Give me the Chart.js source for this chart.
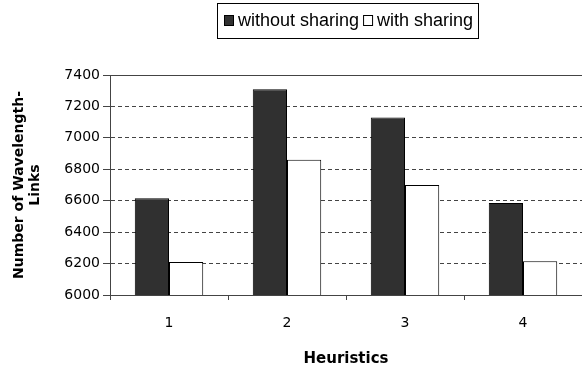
<!DOCTYPE html>
<html>
<head>
<meta charset="utf-8">
<script src="https://cdn.jsdelivr.net/npm/chart.js@4.4.1/dist/chart.umd.min.js"></script>
<style>
  html, body { margin: 0; padding: 0; background: #fff; }
  #chart { display: block; }
</style>
</head>
<body>
<canvas id="chart" width="582" height="366"></canvas>
<script>
// heuristics on the x axis, wavelength-link counts per heuristic
const heuristics = ["1", "2", "3", "4"];
const withoutSharing = [6615, 7310, 7130, 6585];
const withSharing = [6210, 6860, 6700, 6215];
const yMin = 6000;
const yMax = 7400;
const yStep = 200;

// ===== BOXED LEGEND =====
const boxedLegend = {
  id: "boxedLegend",
  afterDraw(chart) {
    const ctx = chart.ctx;
    const box = { left: 217.5, top: 3.5, right: 478.5, bottom: 38.5 };
    ctx.save();
    ctx.strokeStyle = "#000";
    ctx.lineWidth = 1;
    ctx.strokeRect(box.left, box.top, box.right - box.left, box.bottom - box.top);

    ctx.font = "18px 'Liberation Sans', Arial, sans-serif";
    ctx.textBaseline = "middle";
    const midY = 21;
    let x = 224;
    chart.data.datasets.forEach(ds => {
      ctx.fillStyle = ds.backgroundColor;
      ctx.fillRect(x + 0.5, midY - 5.5, 9, 10);
      ctx.strokeStyle = "#000";
      ctx.strokeRect(x + 0.5, midY - 5.5, 9, 10);
      ctx.fillStyle = "#000";
      ctx.fillText(ds.label, x + 14, midY);
      x += 14 + ctx.measureText(ds.label).width + 4;
    });
    ctx.restore();
  }
};

const ctx = document.getElementById("chart").getContext("2d");
new Chart(ctx, {
  type: "bar",
  data: {
    labels: heuristics,
    datasets: [
      {
        label: "without sharing",
        data: withoutSharing,
        backgroundColor: "#303030",
        borderColor: "#000",
        borderWidth: 1
      },
      {
        label: "with sharing",
        data: withSharing,
        backgroundColor: "#ffffff",
        borderColor: "#000",
        borderWidth: 1
      }
    ]
  },
  options: {
    responsive: false,
    animation: false,
    layout: { padding: { top: 75, right: 0, bottom: 0, left: 0 } },
    datasets: {
      bar: { categoryPercentage: 0.58, barPercentage: 1.0 }
    },
    plugins: {
      legend: { display: false },
      tooltip: { enabled: false }
    },
    scales: {
      x: {
        offset: true,
        afterFit: scale => { scale.height = 71; },
        grid: {
          offset: true,
          drawOnChartArea: false,
          drawTicks: true,
          tickLength: 5,
          color: "#444"
        },
        border: { display: true, color: "#444", width: 1 },
        ticks: {
          color: "#000",
          padding: 15,
          font: { family: "'DejaVu Sans', sans-serif", size: 14 }
        },
        title: {
          display: true,
          text: "Heuristics",
          color: "#000",
          padding: { top: 0, bottom: -2 },
          font: { family: "'DejaVu Sans', sans-serif", size: 15, weight: "bold" }
        }
      },
      y: {
        min: yMin,
        max: yMax,
        afterFit: scale => { scale.width = 110; },
        ticks: {
          stepSize: yStep,
          color: "#000",
          padding: 3,
          font: { family: "'DejaVu Sans', sans-serif", size: 14 },
          callback: v => String(v)
        },
        grid: {
          color: "#444",
          tickLength: 7
        },
        border: {
          display: true,
          color: "#444",
          width: 1,
          // top line of the plot is solid, the rest dashed
          dash: c => (c.tick && c.tick.value !== yMax ? [4, 3] : [])
        },
        title: {
          display: true,
          text: ["Number of Wavelength-", "Links"],
          color: "#000",
          padding: { top: 11, bottom: 0 },
          font: { family: "'DejaVu Sans', sans-serif", size: 14, weight: "bold", lineHeight: "16px" }
        }
      }
    }
  },
  plugins: [boxedLegend]
});
</script>
</body>
</html>
